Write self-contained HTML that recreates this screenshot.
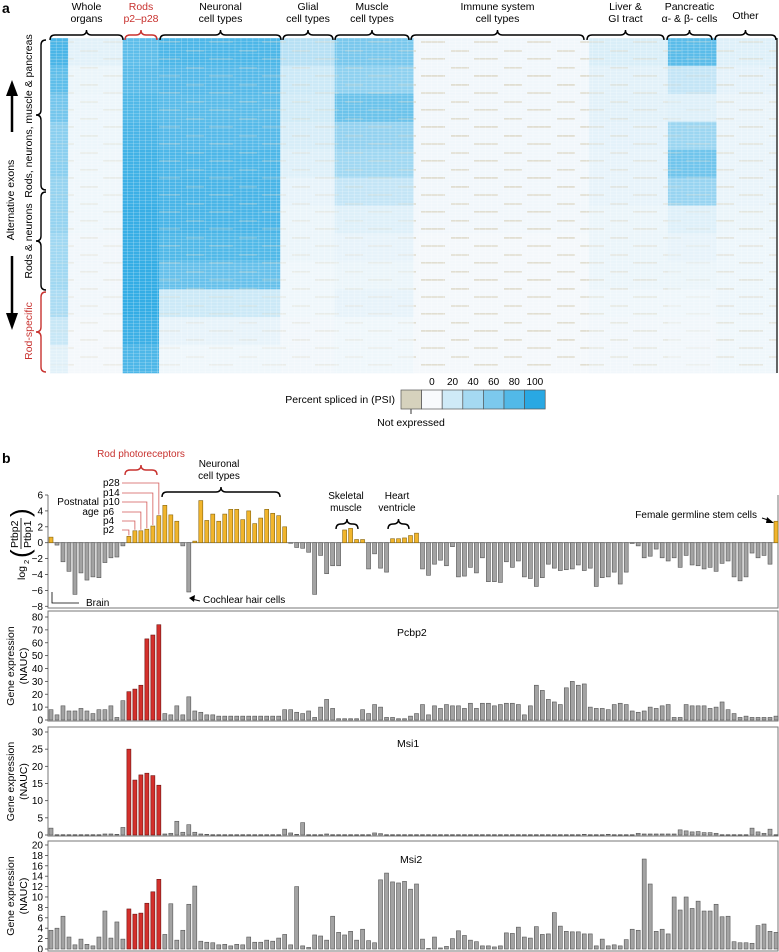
<!DOCTYPE html>
<html><head><meta charset="utf-8"><style>
html,body{margin:0;padding:0;background:#fff}
svg{display:block;font-family:"Liberation Sans",sans-serif}
</style></head><body>
<svg id="fig" width="779" height="952" viewBox="0 0 779 952" xmlns="http://www.w3.org/2000/svg">
<defs>
<pattern id="grid" width="5.96" height="3" patternUnits="userSpaceOnUse" x="50" y="38">
<path d="M0 0H5.96M0 0V3" stroke="#ffffff" stroke-width="0.6" stroke-opacity="0.7" fill="none"/>
</pattern>
<pattern id="beige" width="53" height="17" patternUnits="userSpaceOnUse" x="50" y="38">
<rect x="0" y="3" width="24" height="1.8" fill="#d9d3bf"/>
<rect x="30" y="12" width="18" height="1.8" fill="#d9d3bf"/>
</pattern>
</defs>
<text x="2" y="13" font-size="14" font-weight="bold">a</text>
<text x="2" y="463" font-size="14" font-weight="bold">b</text>
<g id="heat"></g>
<g id="heatTop"></g>
<g id="heatLeft">
<text transform="translate(14,200) rotate(-90)" text-anchor="middle" font-size="10.5">Alternative exons</text>
<text transform="translate(32,116) rotate(-90)" text-anchor="middle" font-size="10.5">Rods, neurons, muscle &amp; pancreas</text>
<text transform="translate(32,241) rotate(-90)" text-anchor="middle" font-size="10.5">Rods &amp; neurons</text>
<text transform="translate(32,331) rotate(-90)" text-anchor="middle" font-size="10.5" fill="#c8322f">Rod-specific</text>
<line x1="12" y1="132" x2="12" y2="94" stroke="#000" stroke-width="2.5"/>
<polygon points="6,96 18,96 12,80" fill="#000"/>
<line x1="12" y1="256" x2="12" y2="315" stroke="#000" stroke-width="2.5"/>
<polygon points="6,313 18,313 12,330" fill="#000"/>
</g>
<g id="legend">
<text x="395" y="403" text-anchor="end" font-size="10.5">Percent spliced in (PSI)</text>
<line x1="411" y1="409" x2="411" y2="414" stroke="#000" stroke-width="0.8"/>
<text x="411" y="426" text-anchor="middle" font-size="10.5">Not expressed</text>
</g>
<g id="log2"></g>
<g id="pcbp2"></g>
<g id="msi1"></g>
<g id="msi2"></g>
</svg>
<script>
// ---------- Data ----------
const log2Vals = [0.7,-0.3,-2.4,-3.6,-6.5,-3.8,-4.7,-4.3,-4.4,-2.5,-1.9,-1.8,-0.4,0.8,1.5,1.5,1.7,2.1,3.4,4.7,3.5,2.7,-0.4,-6.2,0.2,5.3,2.8,3.6,2.7,3.6,4.2,4.2,2.9,4.0,2.4,3.1,4.2,3.7,3.4,2.0,0,-0.6,-0.7,-1.2,-6.5,-1.6,-3.9,-2.9,-2.9,1.6,1.8,0.4,0.4,-3.3,-1.4,-3.2,-3.7,
0.5,0.5,0.6,0.9,1.2,
-3.3,-4.1,-2.7,-2.2,-2.9,-0.5,-4.3,-4.2,-3.1,-3.8,-1.9,-4.9,-4.9,-5,-2.4,-3.1,-2.3,-4.3,-4.5,-5.5,-4.4,-2.7,-3.2,-3.5,-3.4,-3.3,-2.8,-3.5,-3.2,-5.5,-4.4,-4.3,-3.7,-5.2,-3.7,-0.1,-0.4,-1.9,-1.7,-0.8,-1.9,-2.3,-1.9,-3.1,-1.6,-2.8,-2.9,-3.3,-3.1,-3.6,-2.6,-2.3,-4.3,-4.8,-4.3,-1.3,-1.9,-1.6,-2.7,
2.7];
const log2Ticks = [6,4,2,0,-2,-4,-6,-8];
const pcbp2Vals = [8,4,11,7,7,9,7,5,8,8,11,2,15,22,24,27,63,66,74,5,4,11,4,18,7,6,4,4,3,3,3,3,3,3,3,3,3,3,3,8,8,6,5,7,2,10,16,9,1,1,1,1,8,5,12,10,2,
2,1,1,3,5,12,4,11,9,12,11,11,9,13,9,13,13,11,12,13,13,12,4,11,27,23,16,14,12,25,30,27,28,10,9,9,8,12,13,12,7,6,7,10,9,11,12,2,2,12,11,11,11,9,10,14,8,5,2,3,2,2,2,2,3];
const pcbp2Ticks = [0,10,20,30,40,50,60,70,80];
const msi1Vals = [2,0.1,0.1,0.1,0.1,0.1,0.1,0.1,0.1,0.3,0.3,0.2,2.2,25,16,17.5,18,17.3,14.5,0.3,0.5,4,0.8,3,0.8,0.3,0.2,0.1,0.1,0.1,0.1,0.1,0.1,0.1,0.1,0.1,0.1,0.1,0.1,1.7,0.6,0.2,3.6,0.1,0.1,0.1,0.3,0.1,0.1,0.1,0.1,0.1,0.1,0.1,0.6,0.4,0.1,
0.1,0.1,0.1,0.1,0.1,0.1,0.1,0.1,0.1,0.1,0.1,0.1,0.1,0.1,0.1,0.1,0.1,0.1,0.1,0.1,0.1,0.1,0.1,0.1,0.1,0.1,0.1,0.1,0.1,0.1,0.1,0.1,0.2,0.1,0.1,0.1,0.2,0.1,0.1,0.1,0.1,0.5,0.3,0.3,0.3,0.3,0.3,0.3,1.5,1.2,0.9,1.0,0.7,0.7,0.5,0.1,0.1,0.1,0.1,0.1,2.0,0.9,0.5,1.7,0.1];
const msi1Ticks = [0,5,10,15,20,25,30];
const msi2Vals = [3.6,4,6.3,2.3,0.8,1.9,0.9,0.6,2.3,7.3,2.1,5.2,1.9,7.7,6.7,6.9,8.8,11,13.4,2.8,8.7,1.7,3.6,8.6,12.1,1.5,1.3,1.2,0.8,0.9,0.6,0.9,0.8,2.3,1.3,1.3,1.7,1.5,2.1,2.8,0.8,12,0.6,0.3,2.7,2.5,1.7,6.3,3.2,2.7,3.4,1.7,3.8,1.6,1.2,13.3,
14.6,12.9,12.7,13,11.5,12.5,1.9,0.1,2.3,0.2,0.5,2,3.5,2.6,1.7,1.4,0.6,0.6,0.4,0.6,3.1,3.0,4.2,2.3,2.1,4.3,2.8,2.9,7,4.4,3.4,3.3,3.3,2.9,2.9,0.6,1.9,0.6,0.8,0.6,1.8,3.8,3.6,17.3,12.5,3.4,3.8,2.9,10,7.5,10,7.8,9.2,7.3,7.3,8.6,6.2,6.3,1.4,1.2,1.2,1.1,4.5,4.8,3.4,3.2];
const msi2Ticks = [0,2,4,6,8,10,12,14,16,18,20];
const rodIdx = [13,14,15,16,17,18];

// Heatmap: groups and mean PSI per row band (12 bands, top to bottom)
const heatGroups = ["Whole organs (brain)","Whole organs","Rods p2–p28","Neuronal cell types","Glial cell types","Muscle cell types","Immune system cell types","Liver & GI tract","Pancreatic α- & β- cells","Other"];
const heatGroupCols = [3,9,6,20,9,13,29,13,8,10];
const heatPSI = [
 [80,70,60,50,50,45,45,40,40,35,22,10],
 [10,6,5,5,4,4,4,3,3,3,2,2],
 [70,72,76,80,84,86,88,88,90,90,86,78],
 [78,74,72,74,78,80,80,76,66,20,8,4],
 [30,20,18,15,12,8,6,6,4,4,3,3],
 [58,48,64,46,40,24,12,8,6,8,4,4],
 [3,3,3,3,3,3,3,2,2,2,2,2],
 [14,10,10,9,8,8,6,6,6,4,3,3],
 [72,24,12,42,62,44,12,8,6,4,3,3],
 [12,9,7,7,7,7,6,5,5,5,4,4]];
const heatNotExpr = [0.1,0.3,0,0.25,0.3,0.25,0.7,0.4,0.2,0.45];
const psiLegend = [0,20,40,60,80,100];

// ---------- Helpers ----------
const NS="http://www.w3.org/2000/svg";
function mk(parent,tag,attrs,txt){const e=document.createElementNS(NS,tag);for(const k in attrs)e.setAttribute(k,attrs[k]);if(txt!==undefined)e.textContent=txt;parent.appendChild(e);return e;}
function psiColor(p){const a=[248,250,252],b=[30,164,226];const t=Math.max(0,Math.min(1,p/100));return `rgb(${a.map((v,i)=>Math.round(v+(b[i]-v)*t)).join(',')})`;}
function hbrace(g,x1,x2,y,color){const m=(x1+x2)/2;const d=`M${x1} ${y+5} Q${x1} ${y} ${x1+5} ${y} L${m-5} ${y} Q${m} ${y} ${m} ${y-5} Q${m} ${y} ${m+5} ${y} L${x2-5} ${y} Q${x2} ${y} ${x2} ${y+5}`;return mk(g,'path',{d,fill:'none',stroke:color||'#000','stroke-width':1.4});}
function vbrace(g,x,y1,y2,color){const m=(y1+y2)/2;const d=`M${x+5} ${y1} Q${x} ${y1} ${x} ${y1+5} L${x} ${m-5} Q${x} ${m} ${x-5} ${m} Q${x} ${m} ${x} ${m+5} L${x} ${y2-5} Q${x} ${y2} ${x+5} ${y2}`;return mk(g,'path',{d,fill:'none',stroke:color||'#000','stroke-width':1.4});}

// ---------- Heatmap ----------
const H={x0:50,x1:777,y0:38,y1:373};
const heat=document.getElementById('heat');
const totalCols=heatGroupCols.reduce((a,b)=>a+b,0);
const colW=(H.x1-H.x0)/totalCols, nb=heatPSI[0].length, bandH=(H.y1-H.y0)/nb;
let c0=0;
heatGroups.forEach((name,gi)=>{
  const gx=H.x0+c0*colW, gw=heatGroupCols[gi]*colW;
  for(let b=0;b<nb;b++){
    const r=mk(heat,'rect',{x:gx,y:H.y0+b*bandH,width:gw+0.3,height:bandH+0.3,fill:psiColor(heatPSI[gi][b])});
    
    
  }
  const ov=mk(heat,'rect',{x:gx,y:H.y0,width:gw,height:H.y1-H.y0,fill:'url(#beige)',opacity:heatNotExpr[gi]});
  
  
  c0+=heatGroupCols[gi];
});
mk(heat,'rect',{x:H.x0,y:H.y0,width:H.x1-H.x0,height:H.y1-H.y0,fill:'url(#grid)'});
mk(heat,'line',{x1:H.x1,y1:H.y0,x2:H.x1,y2:H.y1,stroke:'#333','stroke-width':1.5});

// heatmap top labels
const ht=document.getElementById('heatTop');
const tops=[[50,123,"Whole","organs",'#000'],[125,157,"Rods","p2–p28",'#c8322f'],[160,281,"Neuronal","cell types",'#000'],[283,333,"Glial","cell types",'#000'],[335,409,"Muscle","cell types",'#000'],[411,584,"Immune system","cell types",'#000'],[587,664,"Liver &","GI tract",'#000'],[667,712,"Pancreatic","α- & β- cells",'#000'],[715,776,"Other","",'#000']];
tops.forEach(t=>{
  const m=(t[0]+t[1])/2;
  const b=hbrace(ht,t[0],t[1],35,t[4]);
  
  
  if(t[3]){
    const a=mk(ht,'text',{x:m,y:10,'text-anchor':'middle','font-size':10.5,fill:t[4]},t[2]);
    
    
    const c=mk(ht,'text',{x:m,y:22,'text-anchor':'middle','font-size':10.5,fill:t[4]},t[3]);
    
    
  } else {
    const a=mk(ht,'text',{x:m,y:19,'text-anchor':'middle','font-size':10.5,fill:t[4]},t[2]);
    
    
  }
});
const hl=document.getElementById('heatLeft');
vbrace(hl,41,40,190,'#000');
vbrace(hl,41,192,290,'#000');
vbrace(hl,41,292,372,'#c8322f');

// legend
const lg=document.getElementById('legend');
const nbox=mk(lg,'rect',{x:401,y:390,width:20.6,height:19,fill:'#d6d2bd',stroke:'#555','stroke-width':0.7});


psiLegend.forEach((p,i)=>{
  const r=mk(lg,'rect',{x:421.6+i*20.6,y:390,width:20.6,height:19,fill:psiColor(p===0?0:p*0.95),stroke:'#555','stroke-width':0.7});
  
  
  const t=mk(lg,'text',{x:431.9+i*20.6,y:385,'text-anchor':'middle','font-size':10},String(p));
  
  
});

// ---------- Bar charts ----------
const X0=51, DX=(776-51)/121, BW=4;
function bx(i){return X0+i*DX;}
function axis(g,ticks,yf,fmt){
  ticks.forEach(v=>{
    mk(g,'line',{x1:45,x2:48,y1:yf(v),y2:yf(v),stroke:'#444','stroke-width':0.8});
    const t=mk(g,'text',{x:43,y:yf(v)+3.5,'text-anchor':'end','font-size':10},fmt?fmt(v):String(v));
    
    
  });
}
function geneLabel(g,cy){
  const t=mk(g,'text',{transform:`translate(14,${cy}) rotate(-90)`,'text-anchor':'middle','font-size':10.5},'Gene expression');
  
  
  const t2=mk(g,'text',{transform:`translate(27,${cy}) rotate(-90)`,'text-anchor':'middle','font-size':10.5},'(NAUC)');
  
  
}
function exprChart(id,vals,ticks,y0,yTop,vmax,top,bottom,name,ny){
  const g=document.getElementById(id);
  const yf=v=>y0-(v/vmax)*(y0-yTop);
  mk(g,'rect',{x:48,y:top,width:730,height:bottom-top,fill:'none',stroke:'#777','stroke-width':1});
  axis(g,ticks,yf);
  vals.forEach((v,i)=>{
    const red=rodIdx.includes(i);
    const y=yf(v);
    const r=mk(g,'rect',{x:bx(i)-BW/2,y:y,width:BW,height:Math.max(0.6,y0-y),fill:red?'#d3302c':'#a3a3a3',stroke:red?'#6e1412':'#555','stroke-width':0.6});
    
    
  });
  const t=mk(g,'text',{x:ny,y:name[1],'font-size':10.5},name[0]);
  
  
  geneLabel(g,(top+bottom)/2);
}
exprChart('pcbp2',pcbp2Vals,pcbp2Ticks,720,617,80,611,721,['Pcbp2',636],397);
exprChart('msi1',msi1Vals,msi1Ticks,835,732,30,727,836,['Msi1',747],397);
exprChart('msi2',msi2Vals,msi2Ticks,949,845,20,841,951,['Msi2',863],400);

// ---------- log2 chart ----------
(function(){
  const g=document.getElementById('log2');
  const Z=542.7, S=7.95;
  const yf=v=>Z-v*S;
  mk(g,'path',{d:`M48 ${yf(6)} V608 H778 V${yf(6)}`,fill:'none',stroke:'#777','stroke-width':1});
  mk(g,'line',{x1:48,x2:778,y1:Z,y2:Z,stroke:'#777','stroke-width':0.8});
  axis(g,log2Ticks,yf,v=>v<0?'−'+(-v):String(v));
  log2Vals.forEach((v,i)=>{
    const y=yf(v);
    const r=mk(g,'rect',{x:bx(i)-BW/2,y:Math.min(y,Z),width:BW,height:Math.max(0.6,Math.abs(Z-y)),fill:v>0?'#f1b52c':'#a3a3a3',stroke:v>0?'#86650f':'#555','stroke-width':0.6});
    
    
  });
  // y label (rotated): numerator nearer the left edge
  const yl=mk(g,'g',{transform:'translate(17,532) rotate(-90)'});
  
  
  mk(yl,'text',{x:-48,y:8,'font-size':10.5},'log');
  mk(yl,'text',{x:-32,y:12,'font-size':7.5},'2');
  mk(yl,'text',{x:-26,y:12,'font-size':26,'font-weight':'200'},'(');
  mk(yl,'text',{x:-16,y:1,'font-size':10.5},'Ptbp2');
  mk(yl,'line',{x1:-17,x2:14,y1:4,y2:4,stroke:'#000','stroke-width':0.8});
  mk(yl,'text',{x:-16,y:14,'font-size':10.5},'Ptbp1');
  mk(yl,'text',{x:15,y:12,'font-size':26,'font-weight':'200'},')');
  // annotations
  function tx(x,y,s,col,anchor,name){const t=mk(g,'text',{x,y,'font-size':10,fill:col||'#000','text-anchor':anchor||'start'},s);return t;}
  tx(141,457,'Rod photoreceptors','#c8322f','middle','rod-photoreceptors-label');
  hbrace(g,125,157,470,'#c8322f');
  tx(219,467,'Neuronal','#000','middle','neuronal-label');
  tx(219,479,'cell types','#000','middle','neuronal-label-2');
  hbrace(g,162,280,492,'#000');
  const ages=['p28','p14','p10','p6','p4','p2'];
  const ageY=[483,493,502,512,521,530];
  ages.forEach((a,k)=>{
    tx(103,ageY[k]+3,a,'#000','start','age-label');
    const bi=18-k, xb=bx(bi);
    mk(g,'path',{d:`M122 ${ageY[k]} H${xb} V${yf(log2Vals[bi])-1}`,fill:'none',stroke:'#d35a58','stroke-width':0.8});
  });
  tx(99,505,'Postnatal','#000','end','postnatal-label');
  tx(99,515,'age','#000','end','age-title-label');
  tx(346,499,'Skeletal','#000','middle','skeletal-label');
  tx(346,511,'muscle','#000','middle','skeletal-label-2');
  hbrace(g,336,358,524,'#000');
  tx(397,499,'Heart','#000','middle','heart-label');
  tx(397,511,'ventricle','#000','middle','heart-label-2');
  hbrace(g,388,409,524,'#000');
  tx(757,518,'Female germline stem cells','#000','end','female-germline-label');
  mk(g,'line',{x1:762,y1:518,x2:771,y2:521,stroke:'#000','stroke-width':1});
  mk(g,'polygon',{points:'774,523 767,517 766,523',fill:'#000'});
  tx(203,603,'Cochlear hair cells','#000','start','cochlear-label');
  mk(g,'line',{x1:200,y1:601,x2:192,y2:599,stroke:'#000','stroke-width':1});
  mk(g,'polygon',{points:'189,598 195,595 194,602',fill:'#000'});
  mk(g,'path',{d:'M52 592 V603 H79',fill:'none',stroke:'#000','stroke-width':0.8});
  tx(86,606,'Brain','#000','start','brain-label');
})();
</script>
</body></html>
